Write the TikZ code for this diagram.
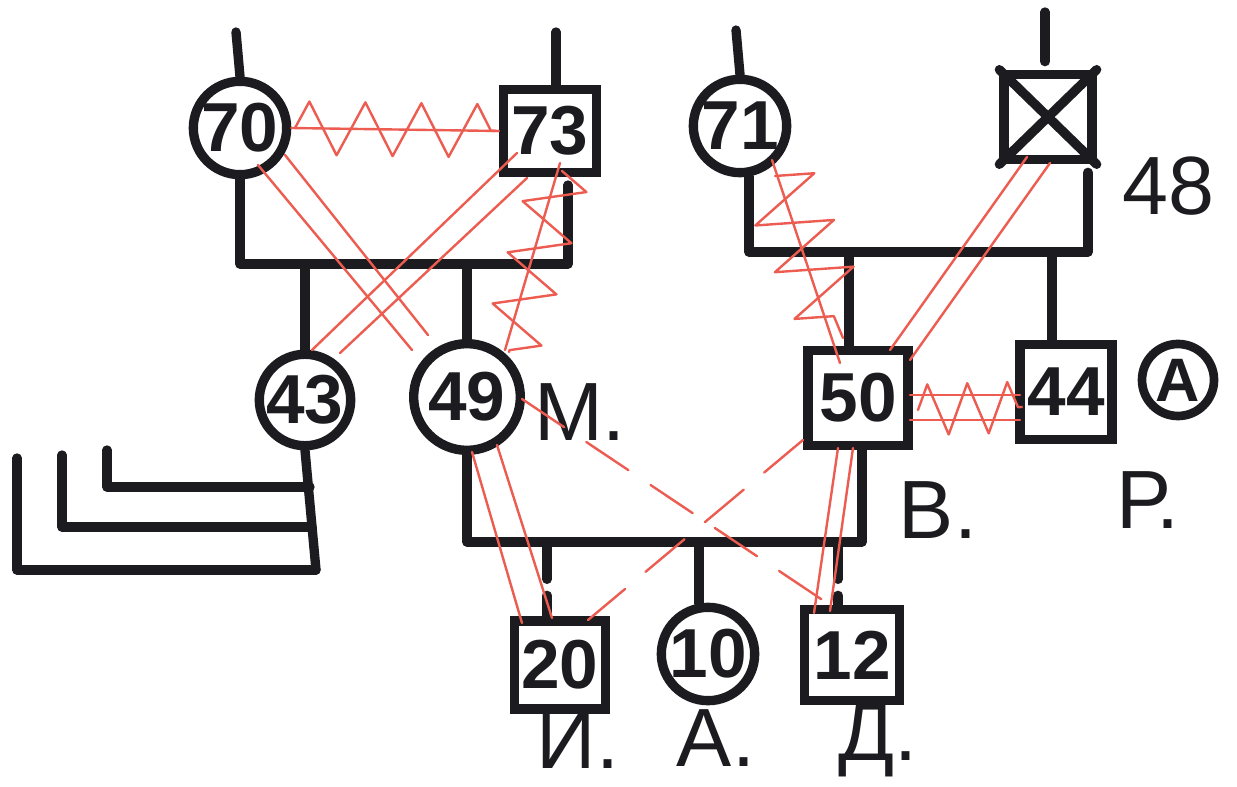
\documentclass[tikz,border=0pt]{standalone}
\usepackage{fontspec}
\setmainfont{Liberation Sans}
\usetikzlibrary{decorations.pathmorphing,calc}
\definecolor{ink}{RGB}{28,28,32}
\definecolor{pencil}{RGB}{236,92,80}
\tikzset{
  inkline/.style={line width=7pt, draw=ink, line cap=round, line join=round},
  fem/.style={circle, draw=ink, line width=7pt, inner sep=0pt, font=\fontsize{52}{52}\selectfont\bfseries, text=ink},
  male/.style={rectangle, draw=ink, line width=7pt, inner sep=0pt, font=\fontsize{52}{52}\selectfont\bfseries, text=ink},
  lbl/.style={inner sep=0pt, anchor=base, font=\fontsize{62}{62}\selectfont, text=ink},
  rel/.style={draw=pencil, line width=1.8pt, line cap=round, line join=round},
  coil/.style 2 args={rel, decorate, decoration={zigzag, segment length=#1, amplitude=#2}},
  distant/.style={rel, dash pattern=on 38pt off 20pt},
  stopped/.style={inkline, dash pattern=on 28pt off 12pt}
}
\begin{document}
\begin{tikzpicture}[x=0.75pt,y=-0.75pt]
\useasboundingbox (0,0) rectangle (1237,787);
\fill[white] (0,0) rectangle (1237,787);

% persons
\node[fem, minimum size=70pt] (n70) at (240,128) {70};
\node[male, minimum width=70pt, minimum height=62pt] (n73) at (550,131) {73};
\node[fem, minimum size=70pt] (n71) at (740,126) {71};
\node[male, minimum width=66pt, minimum height=64pt] (n48) at (1048,117) {};
\node[fem, minimum size=66pt] (n43) at (305,400) {43};
\node[fem, minimum size=80pt] (n49) at (467,397) {49};
\node[male, minimum width=75pt, minimum height=71pt] (n50) at (858,398) {50};
\node[male, minimum width=69pt, minimum height=71pt] (n44) at (1066,392) {44};
\node[male, minimum width=68pt, minimum height=66pt] (n20) at (560,665) {20};
\node[fem, minimum size=70pt] (n10) at (708,654) {10};
\node[male, minimum width=71pt, minimum height=68pt] (n12) at (852,655) {12};

\draw[inkline] (n48.north west) -- (n48.south east) (n48.north east) -- (n48.south west);

% labels
\node[lbl] (l48) at (1168,215) {48};
\node[lbl] (lM) at (580,440) {М.};
\node[lbl] (lB) at (938,538) {В.};
\node[lbl] (lP) at (1148,528) {Р.};
\node[lbl] (lI) at (578,768) {И.};
\node[lbl] (lA2) at (716,766) {А.};
\node[lbl] (lD) at (878,760) {Д.};
\node[circle, draw=ink, line width=6.5pt, minimum size=54pt, inner sep=0pt, font=\fontsize{46}{46}\selectfont\bfseries, text=ink] (lA) at (1178,380) {А};

% lines up
\coordinate (t70) at (236,32);
\coordinate (t73) at (556,32);
\coordinate (t71) at (736,30);
\coordinate (t48) at (1045,12);
\draw[inkline] (t70) -- (n70.north);
\draw[inkline] (t73) -- (t73 |- n73.north);
\draw[inkline] (t71) -- (n71.north);
\draw[inkline] (t48) -- ([yshift=6pt]t48 |- n48.north);

% couple 70-73
\coordinate (m1) at (568,264);
\draw[inkline] (n70.south) |- (m1) -- ([yshift=-6pt]m1 |- n73.south);
\draw[inkline] (n43.north) -- (n43.north |- m1);
\draw[inkline] (n49.north) -- (n49.north |- m1);

% 43 and its lines
\coordinate (b43) at (316,570);
\draw[inkline] (n43.south) -- (b43);
\coordinate (L1) at (107,450);
\coordinate (L1e) at (310,487);
\coordinate (L2) at (62,455);
\coordinate (L2e) at (312,527);
\coordinate (L3) at (17,458);
\draw[inkline] (L1) |- (L1e);
\draw[inkline] (L2) |- (L2e);
\draw[inkline] (L3) |- (b43);

% couple 71-48
\coordinate (m2) at (1088,252);
\draw[inkline] (n71.-80) |- (m2) -- ([yshift=-6pt]m2 |- n48.south);
\draw[inkline] (n50.100) -- (n50.100 |- m2);
\draw[inkline] (n44.105) -- (n44.105 |- m2);

% couple 49-50
\coordinate (m3) at (862,542);
\draw[inkline] (n49.south) |- (m3) -- (m3 |- n50.south);
\coordinate (c20) at (547,542);
\coordinate (c12) at (838,542);
\draw[stopped] (c20) -- (c20 |- n20.north);
\draw[inkline] (n10.100) -- (n10.100 |- m3);
\draw[stopped] (c12) -- (c12 |- n12.north);

% relationship lines (red pencil)
\draw[rel] (n70.east) -- (n73.west);
\draw[coil={42pt}{20pt}] ($(n70)+(55,0)$) -- (n73.west);

\draw[rel] ($(n70)+(18,37)$) -- ($(n49)+(-55,-47)$);
\draw[rel] ($(n70)+(45,27)$) -- ($(n49)+(-39,-62)$);

\draw[rel] ($(n73)+(-33,22)$) -- ($(n43)+(7,-50)$);
\draw[rel] ($(n73)+(-23,47)$) -- ($(n43)+(35,-47)$);

\draw[rel] ($(n73)+(10,32)$) -- ($(n49)+(38,-47)$);
\draw[coil={40pt}{22pt}] ($(n73)+(12,40)$) -- ($(n49)+(42,-45)$);

\draw[rel] ($(n71)+(32,34)$) -- ($(n50)+(-18,-35)$);
\draw[coil={38pt}{28pt}] ($(n71)+(35,50)$) -- ($(n50)+(-15,-60)$);

\draw[rel] ($(n48)+(-21,40)$) -- ($(n50)+(32,-48)$);
\draw[rel] ($(n48)+(2,46)$) -- ($(n50)+(52,-38)$);

\draw[rel] ($(n50)+(52,-3)$) -- ($(n44)+(-46,3)$);
\draw[rel] ($(n50)+(52,22)$) -- ($(n44)+(-46,28)$);
\draw[coil={30pt}{19pt}] ($(n50)+(60,12)$) -- ($(n44)+(-44,15)$);

\draw[rel] ($(n49)+(5,55)$) -- ($(n20)+(-38,-42)$);
\draw[rel] ($(n49)+(30,48)$) -- ($(n20)+(-8,-47)$);

\draw[rel] ($(n50)+(-20,50)$) -- ($(n12)+(-38,-42)$);
\draw[rel] ($(n50)+(-5,50)$) -- ($(n12)+(-22,-44)$);

\draw[distant] ($(n49)+(55,2)$) -- ($(n12)+(-25,-52)$);
\draw[distant] ($(n50)+(-55,42)$) -- ($(n20)+(28,-45)$);
\end{tikzpicture}
\end{document}
